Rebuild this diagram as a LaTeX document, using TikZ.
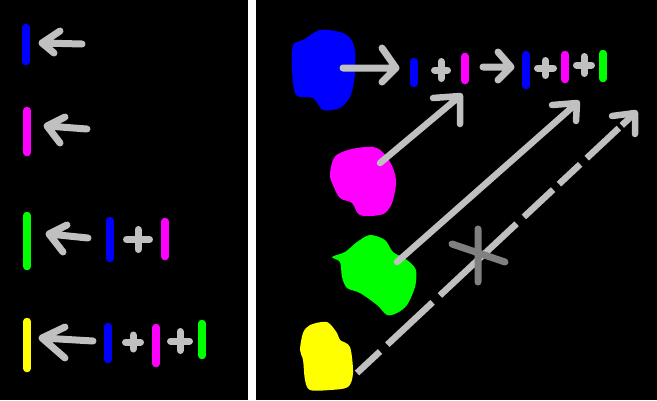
\documentclass[tikz,border=0pt]{standalone}
\definecolor{cblue}{RGB}{0,0,255}
\definecolor{cmag}{RGB}{255,0,255}
\definecolor{cgreen}{RGB}{0,255,0}
\definecolor{cyel}{RGB}{255,255,0}
\definecolor{lgrey}{RGB}{192,192,192}
\definecolor{dgrey}{RGB}{128,128,128}
\tikzset{
  bar/.style={line width=7.5pt, line cap=round},
  arr/.style={lgrey, line width=7pt, line cap=round, line join=round},
  plussign/.style={lgrey, line width=7pt, line cap=round},
  blob/.style={line width=0pt}
}
\newcommand{\plusat}[4]{\draw[plussign] ($(#1,#2)+(-#3,0)$) -- ($(#1,#2)+(#3,0)$) ($(#1,#2)+(0,-#4)$) -- ($(#1,#2)+(0,#4)$);}
\usetikzlibrary{calc}
\begin{document}
\begin{tikzpicture}[x=1pt,y=-1pt]
\fill[black] (0,0) rectangle (657,400);
\useasboundingbox (0,0) rectangle (657,400);
% divider
\fill[white] (248,0) rectangle (256,400);
% ---------- left side ----------
\draw[bar,cblue] (26,27.5) -- (26,61.5);
\draw[arr] (82,44) -- (42,43) (60,31) -- (42,43) -- (54,53);
\draw[bar,cmag] (27,110.5) -- (27,152.5);
\draw[arr] (87,129) -- (47,126) (65,117) -- (47,126) -- (60,143);
\draw[bar,cgreen] (27,215.5) -- (27,266.5);
\draw[arr] (88,238) -- (49,234) (67,225) -- (49,234) -- (63,252);
\draw[bar,cblue] (110,220.5) -- (110,258.5);
\plusat{138}{239.5}{11.5}{10}
\draw[bar,cmag] (165,221.5) -- (165,256.5);
\draw[bar,cyel] (27,321.5) -- (27,368.5);
\draw[arr] (93,341) -- (42,338) (65,327) -- (42,338) -- (65,358);
\draw[bar,cblue] (108,326.5) -- (108,359.5);
\plusat{133}{342}{7.5}{7}
\draw[bar,cmag] (156,327.5) -- (156,363.5);
\plusat{180}{341}{9.5}{9.5}
\draw[bar,cgreen] (202,323.5) -- (202,355.5);
% ---------- right side: blobs ----------
\fill[cblue] plot[smooth cycle, tension=0.5] coordinates {(320,30) (340,32) (350,38) (355,50) (355,70) (354,82) (350,97) (340,108) (323,110) (313,98) (296,95) (292,70) (293,45) (303,40)};
\fill[cmag] plot[smooth cycle, tension=0.6] coordinates {(340,153) (357,148) (377,148) (390,162) (396,180) (393,200) (388,210) (380,215) (360,215) (352,203) (340,198) (333,185) (330,175) (333,160)};
\fill[cgreen] plot[smooth cycle, tension=0.5] coordinates {(332,257) (345,252) (357,242) (370,235) (385,240) (393,252) (407,260) (416,270) (415,287) (407,305) (397,313) (387,315) (377,305) (360,293) (347,288) (342,277) (340,262)};
\fill[cyel] plot[smooth cycle, tension=0.5] coordinates {(310,325) (327,322) (337,333) (340,340) (350,347) (353,373) (348,387) (330,390) (310,390) (305,380) (303,360) (300,350) (303,333)};
\coordinate (bb) at (343,68);
\coordinate (mb) at (380,163);
\coordinate (gb) at (397,262);
\coordinate (yb) at (357,373);
% top row
\draw[arr] (bb) -- (396,68) (382,48) -- (396,68) -- (382,82);
\draw[bar,cblue] (414,61.5) -- (414,83.5);
\plusat{441}{70}{6.5}{8.5}
\draw[bar,cmag] (465,56.5) -- (465,80.5);
\draw[arr] (483,67) -- (511,67) (498,52) -- (511,67) -- (498,80);
\draw[bar,cblue] (526,54.5) -- (526,85.5);
\plusat{545.5}{68}{8}{7.5}
\draw[bar,cmag] (565,54.5) -- (565,79.5);
\plusat{584}{65}{7.5}{8.5}
\draw[bar,cgreen] (603,53.5) -- (603,78.5);
% diagonal arrows
\coordinate (t1) at (460,96);
\coordinate (t2) at (577,103);
\coordinate (t3) at (635,113);
\draw[arr, line width=6.5pt] (mb) -- (t1) (433,98) -- (t1) -- (460,124);
\draw[arr, line width=6.5pt] (gb) -- (t2) (552,105) -- (t2) -- (576,121);
\draw[lgrey, line width=6.5pt, line cap=butt, dash pattern=on 31.5pt off 10pt on 62pt off 10pt on 105pt off 10pt on 40pt off 8pt on 29pt off 9pt on 44pt off 4pt on 40pt] (yb) -- (t3);
\draw[arr, line width=6.5pt] (612,116) -- (t3) -- (635,134);
% cross mark
\draw[dgrey, line width=7pt, line cap=round] (478,229) -- (478,282) (452,244) -- (505,262);
\end{tikzpicture}
\end{document}
